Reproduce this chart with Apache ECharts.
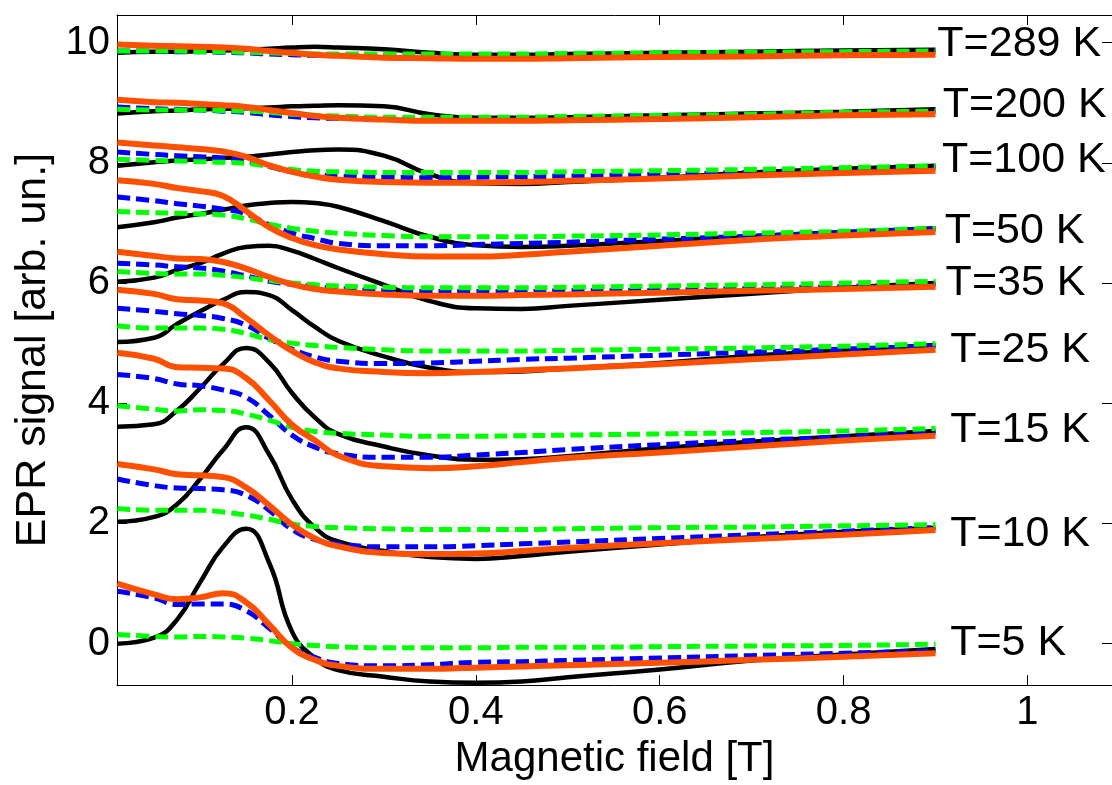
<!DOCTYPE html>
<html>
<head>
<meta charset="utf-8">
<script src="https://cdn.jsdelivr.net/npm/echarts@6/dist/echarts.min.js"></script>
<style>
  html, body { margin: 0; padding: 0; background: #fff; }
  #chart { width: 1112px; height: 785px; }
</style>
</head>
<body>
<div id="chart"></div>
<script>
// Magnetic field samples shared by every curve [T]
const field = [0.01, 0.05, 0.075, 0.1, 0.125, 0.15, 0.175, 0.2, 0.225, 0.25, 0.3, 0.35, 0.4, 0.45, 0.5, 0.6, 0.7, 0.8, 0.9];

// Measured spectra (black), offset per temperature
const exp5   = [0.00, 0.10, 0.40, 1.02, 1.61, 1.91, 1.35, 0.20, -0.24, -0.44, -0.55, -0.63, -0.65, -0.63, -0.56, -0.43, -0.28, -0.18, -0.09];
const exp10  = [2.03, 2.11, 2.32, 2.74, 3.22, 3.60, 3.15, 2.40, 1.93, 1.70, 1.54, 1.44, 1.41, 1.46, 1.53, 1.65, 1.77, 1.86, 1.93];
const exp15  = [3.61, 3.65, 3.88, 4.25, 4.65, 4.92, 4.68, 4.17, 3.76, 3.49, 3.28, 3.13, 3.06, 3.07, 3.12, 3.25, 3.36, 3.45, 3.54];
const exp25  = [5.02, 5.09, 5.32, 5.53, 5.72, 5.85, 5.80, 5.55, 5.27, 5.04, 4.78, 4.59, 4.52, 4.53, 4.58, 4.67, 4.79, 4.88, 4.97];
const exp35  = [6.02, 6.09, 6.22, 6.33, 6.49, 6.60, 6.62, 6.54, 6.40, 6.25, 5.97, 5.70, 5.58, 5.57, 5.62, 5.72, 5.82, 5.92, 6.00];
const exp50  = [6.93, 7.01, 7.09, 7.15, 7.22, 7.29, 7.33, 7.35, 7.33, 7.27, 7.03, 6.77, 6.63, 6.60, 6.62, 6.70, 6.78, 6.85, 6.91];
const exp100 = [7.95, 8.01, 8.04, 8.06, 8.08, 8.10, 8.14, 8.18, 8.21, 8.22, 8.12, 7.81, 7.66, 7.65, 7.68, 7.75, 7.84, 7.90, 7.95];
const exp200 = [8.82, 8.86, 8.87, 8.89, 8.90, 8.91, 8.92, 8.94, 8.95, 8.96, 8.94, 8.81, 8.75, 8.75, 8.76, 8.79, 8.82, 8.85, 8.89];
const exp289 = [9.83, 9.85, 9.85, 9.86, 9.87, 9.88, 9.90, 9.92, 9.93, 9.92, 9.89, 9.83, 9.80, 9.80, 9.81, 9.83, 9.85, 9.87, 9.88];

// Model curve 1 (blue dashed)
const blue5   = [0.87, 0.76, 0.65, 0.66, 0.66, 0.55, 0.26, -0.06, -0.23, -0.33, -0.37, -0.35, -0.31, -0.30, -0.28, -0.24, -0.20, -0.16, -0.12];
const blue10  = [2.74, 2.63, 2.59, 2.58, 2.56, 2.47, 2.22, 1.90, 1.73, 1.66, 1.61, 1.61, 1.63, 1.66, 1.69, 1.75, 1.81, 1.87, 1.93];
const blue15  = [4.48, 4.41, 4.32, 4.29, 4.22, 4.10, 3.80, 3.47, 3.27, 3.16, 3.10, 3.10, 3.14, 3.18, 3.23, 3.31, 3.38, 3.44, 3.52];
const blue25  = [5.58, 5.53, 5.49, 5.46, 5.41, 5.30, 5.08, 4.90, 4.77, 4.70, 4.66, 4.67, 4.70, 4.73, 4.75, 4.80, 4.85, 4.90, 4.95];
const blue35  = [6.33, 6.30, 6.27, 6.25, 6.20, 6.12, 6.03, 5.98, 5.94, 5.91, 5.87, 5.86, 5.86, 5.86, 5.87, 5.88, 5.91, 5.94, 5.98];
const blue50  = [7.43, 7.37, 7.32, 7.28, 7.23, 7.15, 6.97, 6.83, 6.74, 6.66, 6.62, 6.62, 6.64, 6.66, 6.68, 6.73, 6.78, 6.84, 6.90];
const blue100 = [8.18, 8.14, 8.12, 8.10, 8.08, 8.03, 7.94, 7.85, 7.80, 7.78, 7.76, 7.75, 7.76, 7.77, 7.78, 7.81, 7.84, 7.88, 7.92];
const blue200 = [8.93, 8.90, 8.89, 8.88, 8.86, 8.84, 8.80, 8.77, 8.75, 8.74, 8.73, 8.73, 8.74, 8.75, 8.76, 8.78, 8.80, 8.83, 8.86];
const blue289 = [9.86, 9.86, 9.85, 9.85, 9.84, 9.83, 9.81, 9.80, 9.79, 9.79, 9.79, 9.80, 9.80, 9.80, 9.81, 9.82, 9.83, 9.84, 9.85];

// Model curve 2 (green dashed)
const green5   = [0.15, 0.12, 0.11, 0.12, 0.11, 0.09, 0.05, 0.00, -0.03, -0.05, -0.07, -0.07, -0.07, -0.06, -0.06, -0.05, -0.04, -0.03, -0.01];
const green10  = [2.25, 2.22, 2.22, 2.22, 2.19, 2.14, 2.07, 1.99, 1.95, 1.93, 1.91, 1.90, 1.90, 1.90, 1.91, 1.93, 1.94, 1.96, 1.98];
const green15  = [3.96, 3.90, 3.87, 3.89, 3.88, 3.82, 3.72, 3.60, 3.53, 3.50, 3.47, 3.45, 3.45, 3.46, 3.47, 3.49, 3.51, 3.54, 3.58];
const green25  = [5.29, 5.25, 5.25, 5.25, 5.23, 5.16, 5.06, 5.00, 4.96, 4.93, 4.89, 4.87, 4.87, 4.87, 4.88, 4.90, 4.92, 4.95, 4.99];
const green35  = [6.19, 6.16, 6.15, 6.15, 6.13, 6.09, 6.04, 6.00, 5.97, 5.95, 5.93, 5.92, 5.92, 5.92, 5.93, 5.95, 5.97, 6.00, 6.03];
const green50  = [7.19, 7.17, 7.16, 7.15, 7.13, 7.07, 6.98, 6.91, 6.86, 6.83, 6.79, 6.77, 6.77, 6.77, 6.78, 6.80, 6.83, 6.86, 6.91];
const green100 = [8.06, 8.04, 8.03, 8.02, 8.01, 7.99, 7.94, 7.89, 7.86, 7.85, 7.84, 7.84, 7.84, 7.84, 7.85, 7.87, 7.89, 7.92, 7.95];
const green200 = [8.89, 8.88, 8.88, 8.88, 8.87, 8.86, 8.84, 8.81, 8.79, 8.78, 8.76, 8.76, 8.76, 8.76, 8.77, 8.79, 8.81, 8.84, 8.86];
const green289 = [9.86, 9.86, 9.86, 9.85, 9.85, 9.84, 9.83, 9.82, 9.81, 9.81, 9.81, 9.81, 9.81, 9.81, 9.82, 9.83, 9.84, 9.85, 9.86];

// Model curve 3 (orange solid)
const orange5   = [1.00, 0.82, 0.74, 0.77, 0.84, 0.69, 0.32, -0.07, -0.27, -0.37, -0.42, -0.42, -0.40, -0.38, -0.36, -0.32, -0.27, -0.22, -0.16];
const orange10  = [2.99, 2.90, 2.82, 2.80, 2.77, 2.60, 2.30, 1.98, 1.75, 1.62, 1.51, 1.49, 1.50, 1.54, 1.59, 1.67, 1.74, 1.81, 1.89];
const orange15  = [4.84, 4.74, 4.60, 4.59, 4.58, 4.42, 4.05, 3.64, 3.38, 3.13, 2.95, 2.92, 2.95, 3.02, 3.09, 3.18, 3.28, 3.38, 3.46];
const orange25  = [5.89, 5.82, 5.73, 5.71, 5.66, 5.42, 5.13, 4.87, 4.68, 4.58, 4.52, 4.50, 4.52, 4.55, 4.58, 4.65, 4.73, 4.81, 4.89];
const orange35  = [6.52, 6.45, 6.41, 6.40, 6.35, 6.24, 6.10, 5.98, 5.90, 5.86, 5.81, 5.79, 5.79, 5.80, 5.81, 5.84, 5.87, 5.90, 5.94];
const orange50  = [7.71, 7.65, 7.58, 7.53, 7.45, 7.20, 6.93, 6.75, 6.63, 6.56, 6.48, 6.44, 6.44, 6.47, 6.52, 6.62, 6.72, 6.79, 6.85];
const orange100 = [8.34, 8.29, 8.26, 8.23, 8.19, 8.10, 7.96, 7.85, 7.77, 7.72, 7.68, 7.67, 7.67, 7.68, 7.70, 7.74, 7.79, 7.83, 7.87];
const orange200 = [9.05, 9.01, 9.00, 8.98, 8.96, 8.93, 8.88, 8.83, 8.78, 8.75, 8.72, 8.70, 8.70, 8.70, 8.71, 8.73, 8.76, 8.79, 8.81];
const orange289 = [9.97, 9.95, 9.94, 9.93, 9.92, 9.90, 9.86, 9.83, 9.80, 9.78, 9.75, 9.74, 9.73, 9.73, 9.74, 9.76, 9.77, 9.79, 9.80];

// Temperature captions and where they sit (field, signal)
const tempLabels = ['T=5 K', 'T=10 K', 'T=15 K', 'T=25 K', 'T=35 K', 'T=50 K', 'T=100 K', 'T=200 K', 'T=289 K'];
const labelField = [0.916, 0.916, 0.916, 0.916, 0.911, 0.910, 0.907, 0.908, 0.902];
const labelSignal = [0.00, 1.83, 3.55, 4.89, 6.00, 6.86, 8.04, 8.96, 9.97];

// Tick positions
const xTicks = [0.2, 0.4, 0.6, 0.8, 1];
const yTicks = [0, 2, 4, 6, 8, 10];

const groups = [
  [exp5, blue5, green5, orange5],
  [exp10, blue10, green10, orange10],
  [exp15, blue15, green15, orange15],
  [exp25, blue25, green25, orange25],
  [exp35, blue35, green35, orange35],
  [exp50, blue50, green50, orange50],
  [exp100, blue100, green100, orange100],
  [exp200, blue200, green200, orange200],
  [exp289, blue289, green289, orange289]
];

const FONT = '"Liberation Sans", Arial, Helvetica, sans-serif';

const styles = [
  { color: '#000000', width: 4.5, type: 'solid' },
  { color: '#0000ff', width: 5, type: [13, 6] },
  { color: '#00ff00', width: 5, type: [13, 6] },
  { color: '#ff5000', width: 6, type: 'solid' }
];

const pair = ys => field.map((x, i) => [x, ys[i]]);

const series = [];
// draw layer by layer so the orange fits sit on top
for (let k = 0; k < 4; k++) {
  groups.forEach(g => {
    series.push({
      type: 'line',
      data: pair(g[k]),
      showSymbol: false,
      symbol: 'none',
      smooth: 0.5,
      lineStyle: { color: styles[k].color, width: styles[k].width, type: styles[k].type, cap: 'butt', join: 'round', opacity: 1 },
      emphasis: { disabled: true },
      silent: true,
      z: 2 + k
    });
  });
}

series.push({
  type: 'scatter',
  symbolSize: 0,
  silent: true,
  emphasis: { disabled: true },
  data: labelField.map((x, i) => [x, labelSignal[i], tempLabels[i]]),
  itemStyle: { opacity: 1 },
  label: {
    show: true,
    position: 'right',
    distance: 0,
    formatter: p => p.data[2],
    fontFamily: FONT,
    fontSize: 43,
    color: '#000000',
    opacity: 1,
    textBorderWidth: 0
  },
  z: 10
});

const tickStyle = { show: true, inside: true, length: 10, lineStyle: { color: '#000', width: 1 } };
const lineStyleAxis = { show: true, onZero: false, lineStyle: { color: '#000', width: 1 } };

const option = {
  animation: false,
  backgroundColor: '#fff',
  grid: { left: 117, top: 15, right: 0, bottom: 96, containLabel: false },
  xAxis: [
    {
      type: 'value', position: 'bottom', min: 0.0096, max: 1.092,
      axisLine: lineStyleAxis,
      axisTick: Object.assign({ customValues: xTicks }, tickStyle),
      axisLabel: { customValues: xTicks, fontFamily: FONT, fontSize: 40, color: '#000', margin: 8, formatter: v => String(v) },
      splitLine: { show: false },
      name: 'Magnetic field [T]', nameLocation: 'middle', nameGap: 46,
      nameTextStyle: { fontFamily: FONT, fontSize: 42, color: '#000' }
    },
    {
      type: 'value', position: 'top', min: 0.0096, max: 1.092,
      axisLine: lineStyleAxis,
      axisTick: Object.assign({ customValues: xTicks }, tickStyle),
      axisLabel: { show: false },
      splitLine: { show: false }
    }
  ],
  yAxis: [
    {
      type: 'value', position: 'left', min: -0.69, max: 10.46,
      axisLine: lineStyleAxis,
      axisTick: Object.assign({ customValues: yTicks }, tickStyle),
      axisLabel: { customValues: yTicks, fontFamily: FONT, fontSize: 40, color: '#000', margin: 7 },
      splitLine: { show: false },
      name: 'EPR signal [arb. un.]', nameLocation: 'middle', nameGap: 60,
      nameTextStyle: { fontFamily: FONT, fontSize: 43, color: '#000' }
    },
    {
      type: 'value', position: 'right', min: -0.69, max: 10.46,
      axisLine: lineStyleAxis,
      axisTick: Object.assign({ customValues: yTicks }, tickStyle),
      axisLabel: { show: false },
      splitLine: { show: false }
    }
  ],
  series: series
};

const chart = echarts.init(document.getElementById('chart'), null, { renderer: 'canvas' });
chart.setOption(option);
</script>
</body>
</html>
